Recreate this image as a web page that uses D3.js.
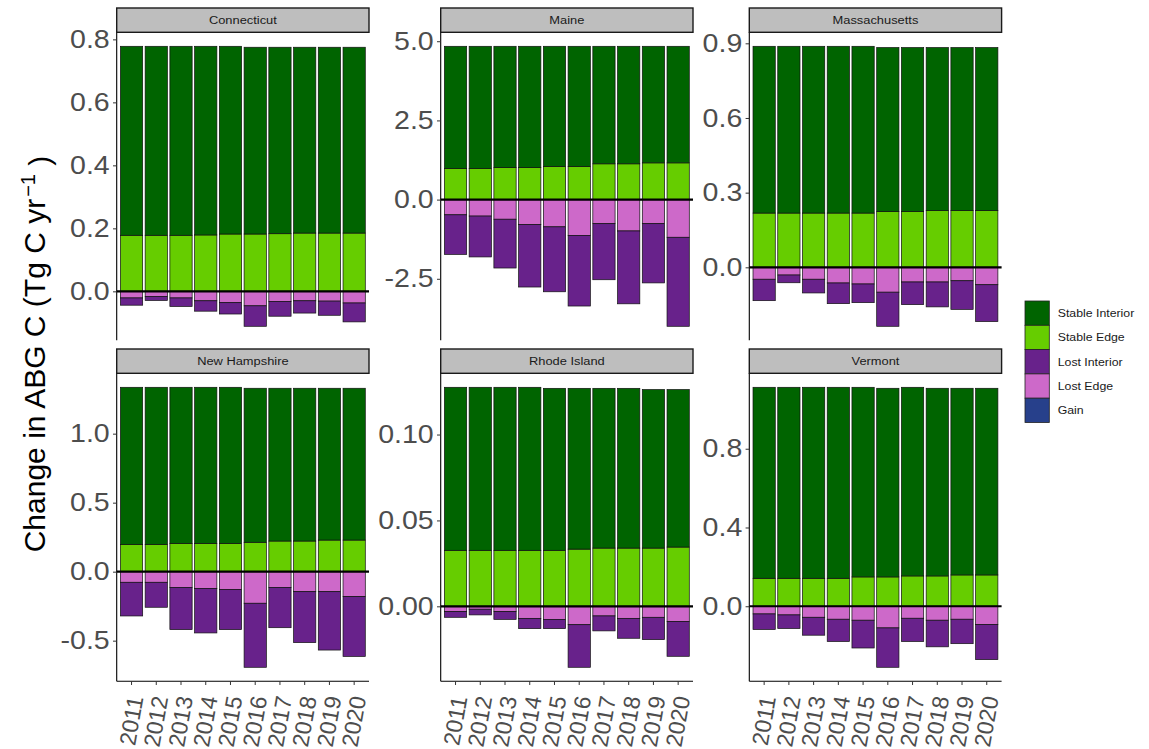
<!DOCTYPE html>
<html>
<head>
<meta charset="utf-8">
<script src="https://cdn.jsdelivr.net/npm/d3@7"></script>
<style>
  body { margin: 0; background: #fff; }
  text { font-family: "Liberation Sans", Arial, sans-serif; }
</style>
</head>
<body>
<div id="chart"></div>
<script>
// years on the x axis, one facet per state
const years = [2011, 2012, 2013, 2014, 2015, 2016, 2017, 2018, 2019, 2020];
const states = ["Connecticut", "Maine", "Massachusetts", "New Hampshire", "Rhode Island", "Vermont"];

// series values, one row per state (same order as states)
const stableInterior = [
  [0.600, 0.600, 0.600, 0.599, 0.596, 0.593, 0.592, 0.590, 0.590, 0.590],
  [3.86, 3.86, 3.83, 3.83, 3.79, 3.79, 3.71, 3.71, 3.68, 3.68],
  [0.670, 0.670, 0.670, 0.670, 0.670, 0.659, 0.659, 0.655, 0.655, 0.655],
  [1.138, 1.138, 1.131, 1.131, 1.131, 1.116, 1.107, 1.107, 1.100, 1.100],
  [0.0949, 0.0949, 0.0949, 0.0949, 0.0943, 0.0936, 0.0930, 0.0930, 0.0923, 0.0917],
  [0.970, 0.970, 0.970, 0.970, 0.963, 0.958, 0.958, 0.953, 0.948, 0.948]
];
const stableEdge = [
  [0.178, 0.178, 0.178, 0.179, 0.182, 0.182, 0.183, 0.185, 0.185, 0.185],
  [0.98, 0.98, 1.01, 1.01, 1.05, 1.05, 1.13, 1.13, 1.16, 1.16],
  [0.218, 0.218, 0.218, 0.218, 0.218, 0.224, 0.224, 0.228, 0.228, 0.228],
  [0.198, 0.198, 0.205, 0.205, 0.205, 0.213, 0.222, 0.222, 0.229, 0.229],
  [0.0326, 0.0326, 0.0326, 0.0326, 0.0326, 0.0333, 0.0339, 0.0339, 0.0339, 0.0345],
  [0.142, 0.142, 0.142, 0.142, 0.149, 0.149, 0.154, 0.154, 0.159, 0.159]
];
const lostInterior = [
  [-0.023, -0.013, -0.027, -0.033, -0.036, -0.065, -0.047, -0.039, -0.045, -0.060],
  [-1.25, -1.29, -1.54, -1.97, -2.05, -2.23, -1.77, -2.30, -1.87, -2.81],
  [-0.086, -0.031, -0.055, -0.083, -0.075, -0.137, -0.091, -0.100, -0.115, -0.148],
  [-0.244, -0.181, -0.306, -0.323, -0.290, -0.464, -0.292, -0.369, -0.423, -0.433],
  [-0.0033, -0.0033, -0.0045, -0.0060, -0.0054, -0.0248, -0.0087, -0.0116, -0.0130, -0.0202],
  [-0.079, -0.069, -0.091, -0.113, -0.141, -0.200, -0.118, -0.135, -0.124, -0.178]
];
const lostEdge = [
  [-0.021, -0.016, -0.021, -0.030, -0.036, -0.046, -0.032, -0.030, -0.031, -0.037],
  [-0.48, -0.52, -0.62, -0.79, -0.86, -1.13, -0.76, -0.99, -0.76, -1.19],
  [-0.048, -0.031, -0.048, -0.063, -0.067, -0.100, -0.059, -0.059, -0.054, -0.070],
  [-0.077, -0.077, -0.114, -0.121, -0.130, -0.229, -0.114, -0.145, -0.145, -0.181],
  [-0.0031, -0.0017, -0.0031, -0.0070, -0.0076, -0.0107, -0.0056, -0.0070, -0.0064, -0.0089],
  [-0.039, -0.044, -0.056, -0.066, -0.071, -0.110, -0.061, -0.071, -0.066, -0.093]
];

// y tick values per state
const yTicks = [
  [0.0, 0.2, 0.4, 0.6, 0.8],
  [-2.5, 0.0, 2.5, 5.0],
  [0.0, 0.3, 0.6, 0.9],
  [-0.5, 0.0, 0.5, 1.0],
  [0.00, 0.05, 0.10],
  [0.0, 0.4, 0.8]
];
const yDecimals = [1, 1, 1, 1, 2, 1];

const legendNames = ["Stable Interior", "Stable Edge", "Lost Interior", "Lost Edge", "Gain"];
const colors = {
  "Stable Interior": "#006400",
  "Stable Edge": "#66CD00",
  "Lost Interior": "#68228B",
  "Lost Edge": "#CD69C9",
  "Gain": "#27408B"
};

const width = 1149, height = 749;
const stretch = 1.12; // text in the reference is a bit wider than Liberation Sans

const svg = d3.select("#chart").append("svg")
  .attr("width", width)
  .attr("height", height);

// facet layout
const colLeft = [116.7, 440.7, 749.3];
const panelW = 252.3;
const rowStripTop = [8, 349];
const stripH = 24.3;
const panelH = 308;

const keys = ["Stable Edge", "Stable Interior", "Lost Edge", "Lost Interior"];

states.forEach((state, si) => {
  const col = si % 3, row = Math.floor(si / 3);
  const x0 = colLeft[col];
  const stripTop = rowStripTop[row];
  const y0 = stripTop + stripH;

  const rows = years.map((yr, i) => ({
    year: yr,
    "Stable Edge": stableEdge[si][i],
    "Stable Interior": stableInterior[si][i],
    "Lost Edge": lostEdge[si][i],
    "Lost Interior": lostInterior[si][i]
  }));

  const series = d3.stack().keys(keys).offset(d3.stackOffsetDiverging)(rows);

  const lo = d3.min(series, s => d3.min(s, d => d[0]));
  const hi = d3.max(series, s => d3.max(s, d => d[1]));
  const pad = (hi - lo) * 0.05;

  const y = d3.scaleLinear().domain([lo - pad, hi + pad]).range([y0 + panelH, y0]);
  const x = d3.scaleLinear().domain([0.4, years.length + 0.6]).range([x0, x0 + panelW]);
  const bw = x(0.9) - x(0);

  const g = svg.append("g");

  // bars
  series.forEach(s => {
    g.append("g")
      .selectAll("rect")
      .data(s)
      .join("rect")
      .attr("x", (d, i) => x(i + 1) - bw / 2)
      .attr("width", bw)
      .attr("y", d => y(Math.max(d[0], d[1])))
      .attr("height", d => Math.abs(y(d[0]) - y(d[1])))
      .attr("fill", colors[s.key])
      .attr("stroke", "#111")
      .attr("stroke-width", 0.7);
  });

  // zero line
  g.append("line")
    .attr("x1", x0).attr("x2", x0 + panelW)
    .attr("y1", y(0)).attr("y2", y(0))
    .attr("stroke", "#000")
    .attr("stroke-width", 2.2);

  // y axis
  const yAxis = g.append("g")
    .attr("transform", `translate(${x0},0)`)
    .call(d3.axisLeft(y)
      .tickValues(yTicks[si])
      .tickSize(3.7)
      .tickPadding(3)
      .tickFormat(d => d.toFixed(yDecimals[si])));
  yAxis.select(".domain").attr("stroke", "#000").attr("stroke-width", 1.1)
    .attr("d", `M0,${y0}V${y0 + panelH}`);
  yAxis.selectAll(".tick line").attr("stroke", "#333");
  yAxis.selectAll(".tick text")
    .attr("fill", "#4D4D4D")
    .style("font-size", "25.5px")
    .style("font-family", "'Liberation Sans', Arial, sans-serif")
    .attr("x", -7 / stretch)
    .attr("transform", `scale(${stretch},1)`);

  // x axis only on bottom row
  if (row === 1) {
    const xa = g.append("g").attr("transform", `translate(0,${y0 + panelH})`);
    xa.append("line")
      .attr("x1", x0).attr("x2", x0 + panelW)
      .attr("stroke", "#000").attr("stroke-width", 1.1);
    years.forEach((yr, i) => {
      xa.append("line")
        .attr("x1", x(i + 1)).attr("x2", x(i + 1))
        .attr("y1", 0).attr("y2", 3.7)
        .attr("stroke", "#333");
      xa.append("text")
        .attr("transform", `translate(${x(i + 1) + 4},${15}) rotate(-80)`)
        .attr("text-anchor", "end")
        .attr("dy", "0.35em")
        .attr("fill", "#4D4D4D")
        .style("font-size", "23px")
        .text(yr);
    });
  }

  // strip
  g.append("rect")
    .attr("x", x0).attr("y", stripTop)
    .attr("width", panelW).attr("height", stripH)
    .attr("fill", "#BEBEBE")
    .attr("stroke", "#1a1a1a")
    .attr("stroke-width", 1.4);
  g.append("text")
    .attr("transform", `translate(${x0 + panelW / 2},${stripTop + stripH / 2}) scale(${stretch},1)`)
    .attr("text-anchor", "middle")
    .attr("dy", "0.36em")
    .attr("fill", "#1A1A1A")
    .style("font-size", "11.5px")
    .text(state);
});

// y axis title
const title = svg.append("text")
  .attr("transform", "translate(45,354) rotate(-90)")
  .attr("text-anchor", "middle")
  .attr("fill", "#000")
  .style("font-size", "30px");
title.append("tspan").text("Change in ABG C (Tg C yr");
title.append("tspan").attr("dy", "-0.5em").attr("dx", "2").style("font-size", "20px").text("\u22121");
title.append("tspan").attr("dy", "0.5em").text(" )");

// legend
const legend = svg.append("g").attr("transform", "translate(1025,301)");
const keyH = 24.3;
legendNames.forEach((name, i) => {
  legend.append("rect")
    .attr("x", 0).attr("y", i * keyH)
    .attr("width", 24.3).attr("height", keyH)
    .attr("fill", colors[name])
    .attr("stroke", "#222")
    .attr("stroke-width", 0.8);
  legend.append("text")
    .attr("transform", `translate(32.7,${i * keyH + keyH / 2}) scale(${stretch},1)`)
    .attr("dy", "0.35em")
    .attr("fill", "#1A1A1A")
    .style("font-size", "11px")
    .text(name);
});
</script>
</body>
</html>
